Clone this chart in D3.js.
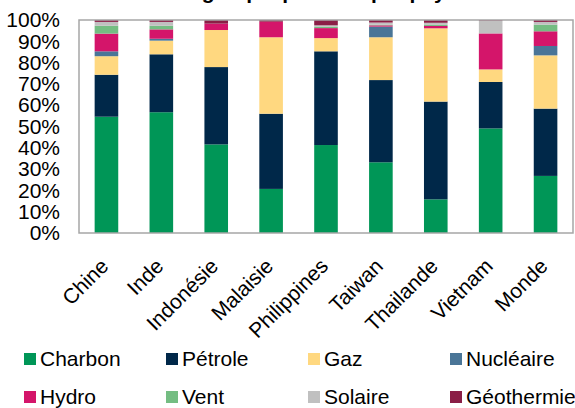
<!DOCTYPE html>
<html>
<head>
<meta charset="utf-8">
<script src="https://cdn.jsdelivr.net/npm/d3@7"></script>
<style>
html,body{margin:0;padding:0;background:#fff;}
svg{display:block;font-family:"Liberation Sans",Arial,sans-serif;}
</style>
</head>
<body>
<svg id="chart" width="575" height="408"></svg>
<script>
const categories = ["Chine","Inde","Indonésie","Malaisie","Philippines","Taiwan","Thailande","Vietnam","Monde"];
const seriesNames = ["Charbon","Pétrole","Gaz","Nucléaire","Hydro","Vent","Solaire","Géothermie"];
const seriesColors = ["#009657","#002849","#FFD880","#4A7597","#D4156A","#74BD82","#C0C0C0","#8B1E46"];
const charbon    = [54.6, 56.7, 41.6, 20.7, 41.3, 33.2, 15.8, 49.1, 26.8];
const petrole    = [19.7, 27.2, 36.3, 35.3, 44.0, 38.6, 45.9, 21.8, 31.6];
const gaz        = [8.7, 6.4, 17.4, 35.9, 6.2, 20.1, 34.4, 5.9, 25.0];
const nucleaire  = [2.3, 0.9, 0, 0, 0, 5.0, 0, 0, 4.4];
const hydro      = [8.3, 4.4, 3.0, 7.3, 4.7, 0.6, 1.1, 16.9, 6.9];
const vent       = [3.7, 1.7, 0, 0, 0.6, 0.3, 0.5, 0, 3.1];
const solaire    = [1.8, 1.8, 0, 0, 0.7, 1.0, 1.0, 6.0, 1.3];
const geothermie = [0.9, 0.9, 1.7, 0.8, 2.5, 1.2, 1.3, 0.3, 0.9];
const yTicks = [0,10,20,30,40,50,60,70,80,90,100];
const title = "Mix énergétique primaire par pays";

(function(){
const seriesValues = [charbon, petrole, gaz, nucleaire, hydro, vent, solaire, geothermie];
const rows = categories.map((c,i) => {
  const o = {cat:c};
  seriesNames.forEach((s,j) => o[s] = seriesValues[j][i]);
  return o;
});

const svg = d3.select("#chart");
const mL = 79, mR = 573, mT = 20, mB = 233;
const fs = 21;

const x = d3.scaleBand().domain(categories).range([mL,mR]).paddingInner(0.57).paddingOuter(0.285);
const y = d3.scaleLinear().domain([0,100]).range([mB,mT]);
const color = d3.scaleOrdinal().domain(seriesNames).range(seriesColors);

svg.append("text").attr("x",287).attr("y",-1).attr("text-anchor","middle")
  .attr("font-size",fs).attr("font-weight","bold").text(title);

const stack = d3.stack().keys(seriesNames)(rows);
svg.append("g").selectAll("g").data(stack).join("g")
  .attr("fill", d => color(d.key))
  .selectAll("rect").data(d => d).join("rect")
  .attr("x", d => x(d.data.cat))
  .attr("width", x.bandwidth())
  .attr("y", d => y(d[1]))
  .attr("height", d => Math.max(0, y(d[0]) - y(d[1])));

svg.append("rect").attr("x",mL).attr("y",mT).attr("width",mR-mL).attr("height",mB-mT)
  .attr("fill","none").attr("stroke","#a6a6a6").attr("stroke-width",1.5);

const yAxis = d3.axisLeft(y).tickValues(yTicks).tickFormat(d => d + "%").tickSize(0).tickPadding(19);
const ya = svg.append("g").attr("transform",`translate(${mL},0)`).call(yAxis);
ya.select(".domain").remove();
ya.selectAll("text").attr("font-size",fs).attr("fill","#000").attr("font-family","Liberation Sans, Arial, sans-serif");

const xAxis = d3.axisBottom(x).tickSize(0);
const xa = svg.append("g").attr("transform",`translate(0,${mB})`).call(xAxis);
xa.select(".domain").remove();
xa.selectAll("text").attr("font-size",fs).attr("fill","#000").attr("font-family","Liberation Sans, Arial, sans-serif")
  .attr("text-anchor","end").attr("y",0)
  .attr("transform","translate(-7,24) rotate(-45)").attr("dy","0.7em");

const legend = svg.append("g");
const colX = [24, 166, 308, 450];
const rowY = [359, 397];
seriesNames.forEach((s,i) => {
  const cx = colX[i%4], cy = rowY[Math.floor(i/4)];
  const g = legend.append("g").attr("transform",`translate(${cx},${cy})`);
  g.append("rect").attr("x",0).attr("y",-6).attr("width",12).attr("height",12).attr("fill",color(s));
  g.append("text").attr("x",16).attr("y",0).attr("dy","0.35em").attr("font-size",fs).attr("fill","#000").text(s);
});
})();
</script>
</body>
</html>
